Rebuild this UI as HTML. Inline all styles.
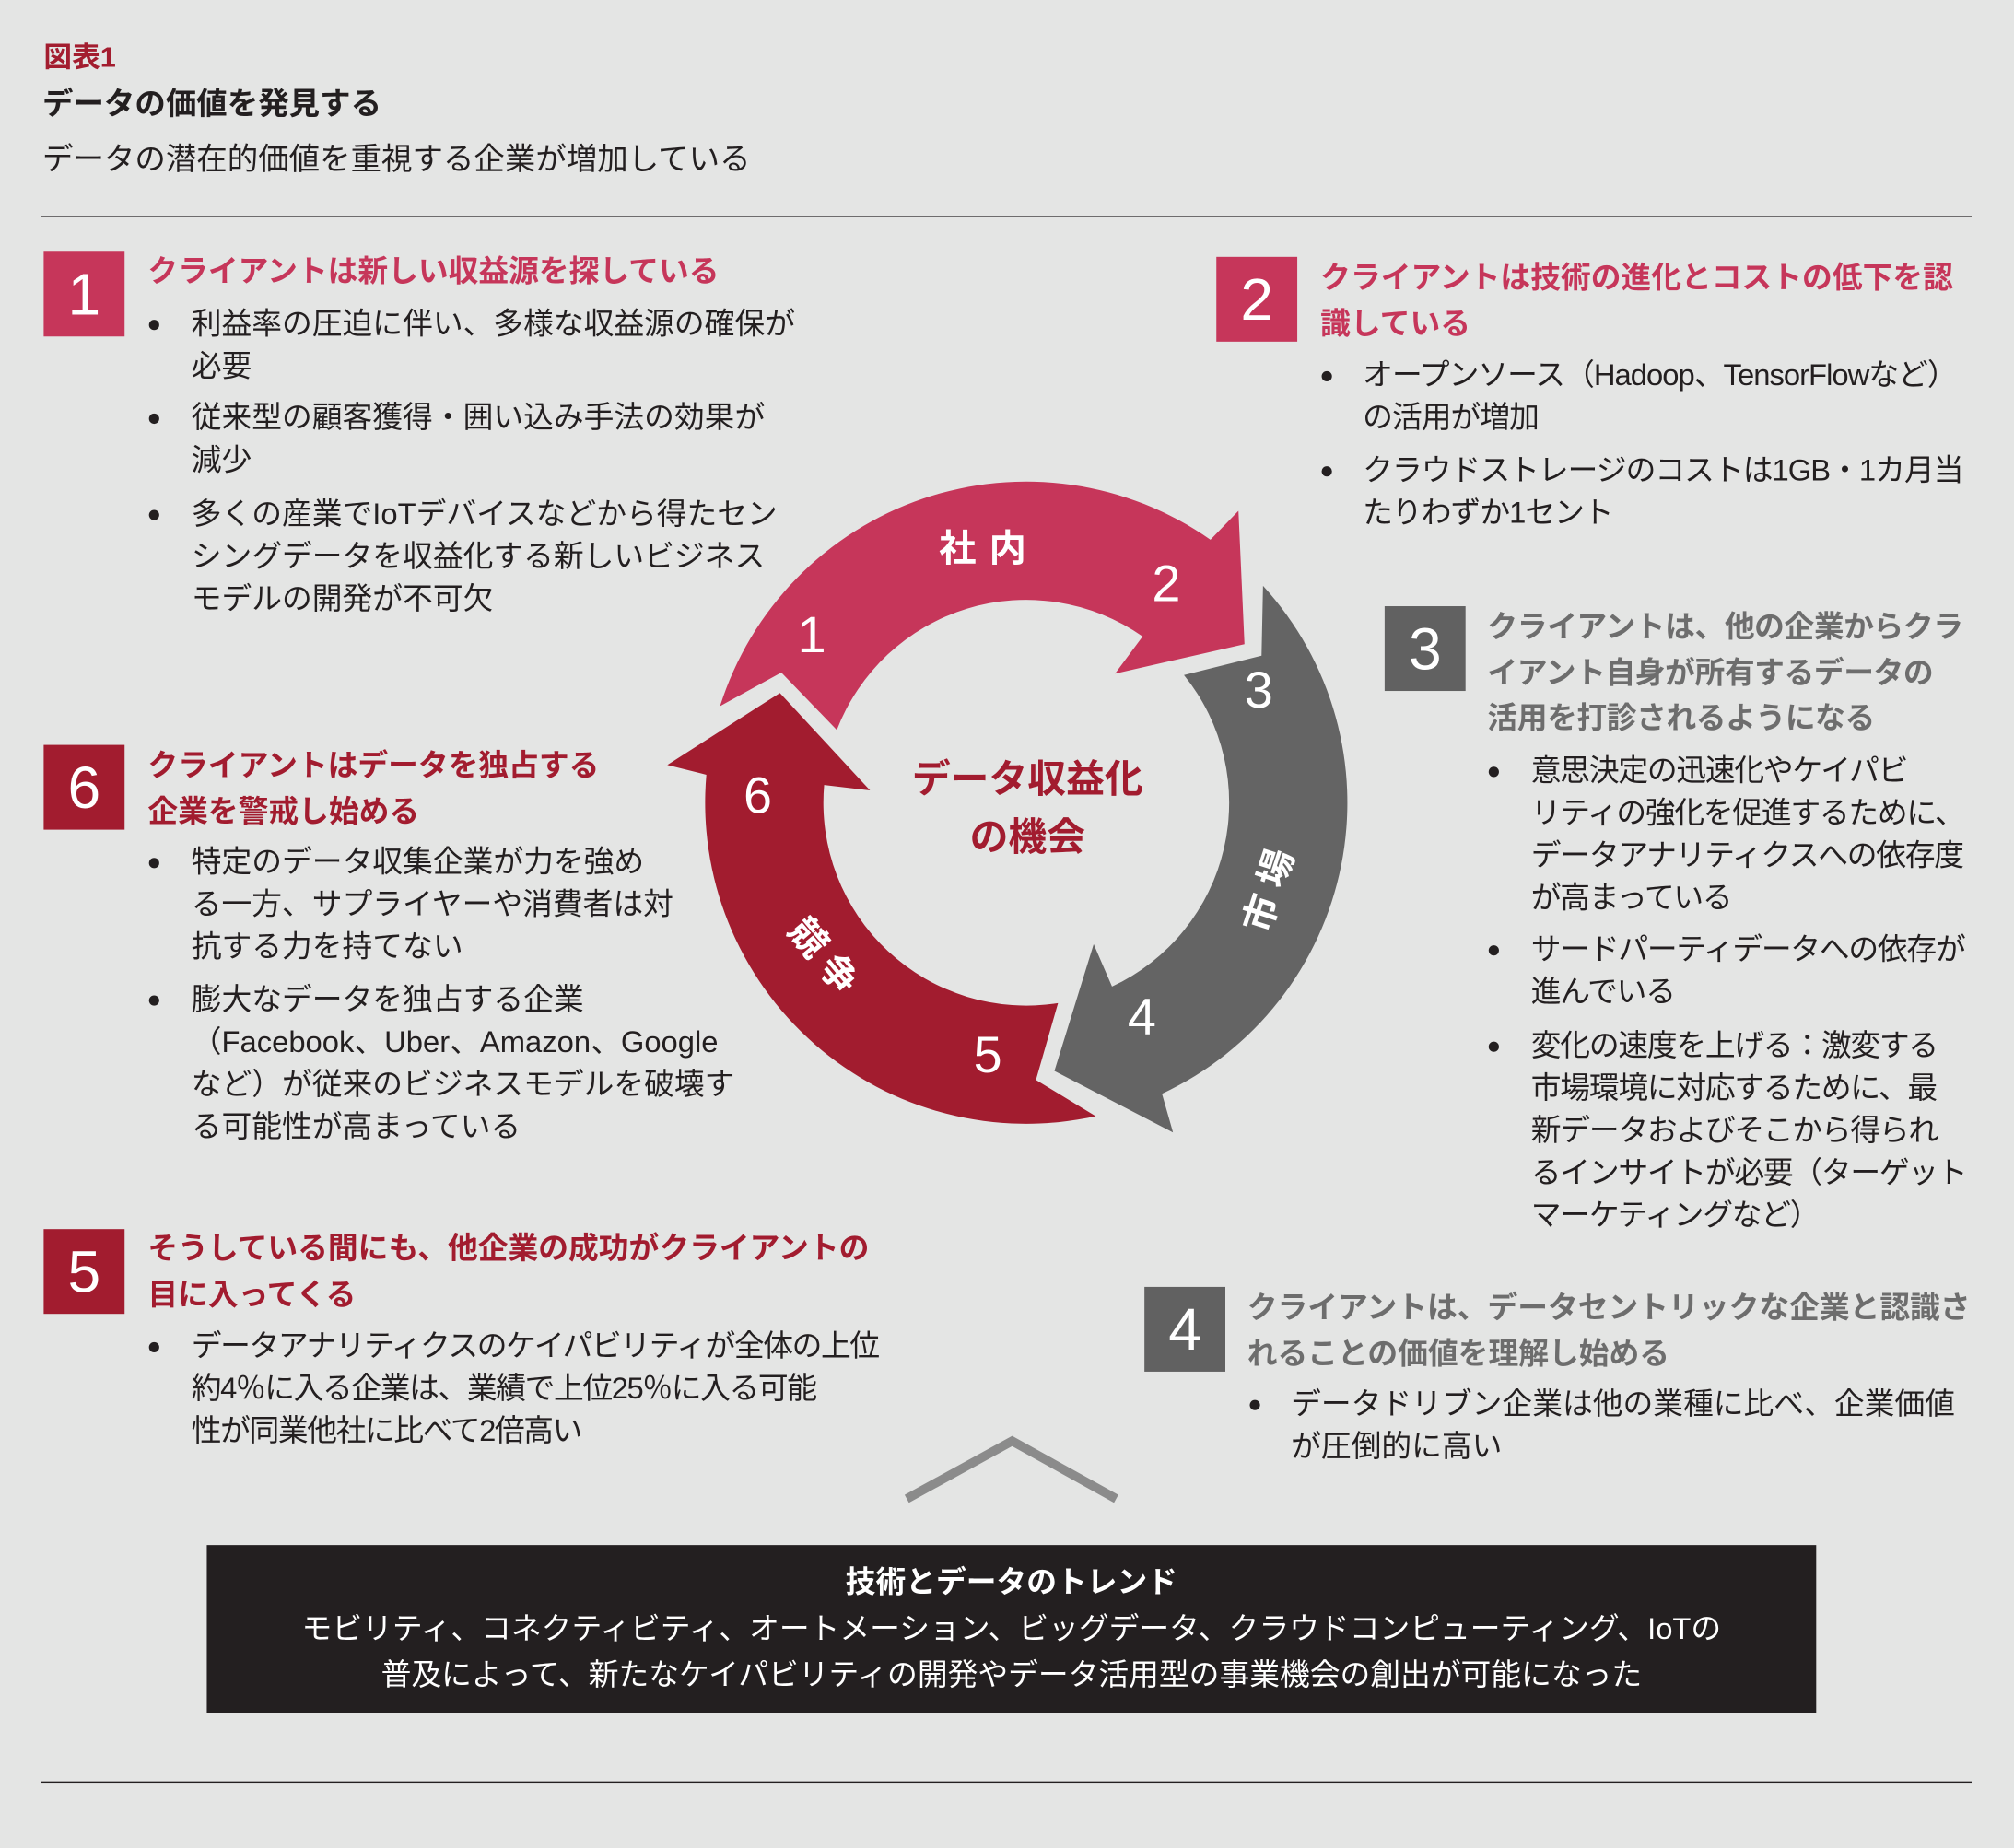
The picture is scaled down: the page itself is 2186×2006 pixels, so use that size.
<!DOCTYPE html>
<html><head><meta charset="utf-8"><style>
html,body{margin:0;padding:0;background:#e4e5e4;}
body{width:2186px;height:2006px;overflow:hidden;}
#w{position:absolute;left:0;top:0;width:1568px;height:1439px;transform:scale(1.39413);transform-origin:0 0;font-family:"Liberation Sans","Noto Sans CJK JP",sans-serif;color:#231f20;}
.a{position:absolute;white-space:nowrap;}
.t{font-size:23.5px;line-height:33px;}
.h{font-size:23.5px;line-height:35.5px;font-weight:bold;}
.box{position:absolute;width:63px;height:66px;color:#fff;font-size:46px;line-height:66px;text-align:center;}
.b{position:absolute;width:8px;height:8px;border-radius:50%;background:#231f20;}
.n{position:absolute;color:#fff;font-size:40px;line-height:40px;transform:translate(-50%,-50%);}
</style></head><body><div id="w">
<div class="a" style="left:34px;top:32px;font-size:22px;line-height:26px;font-weight:bold;color:#a31d2f;">図表1</div>
<div class="a" style="left:33px;top:67px;font-size:24px;line-height:30px;font-weight:bold;">データの価値を発見する</div>
<div class="a" style="left:33px;top:110px;font-size:24px;line-height:30px;">データの潜在的価値を重視する企業が増加している</div>
<div class="a" style="left:32px;top:168px;width:1503px;height:1px;background:#231f20;"></div>
<div class="a" style="left:32px;top:1387px;width:1503px;height:1px;background:#231f20;"></div>

<!-- 1 -->
<div class="box" style="left:34px;top:196px;background:#c6365a;">1</div>
<div class="a h" style="left:115px;top:194px;color:#c6365a;">クライアントは新しい収益源を探している</div>
<div class="b" style="left:116px;top:249px"></div><div class="b" style="left:116px;top:322px"></div><div class="b" style="left:116px;top:397px"></div>
<div class="a t" style="left:149px;top:236px;">利益率の圧迫に伴い、多様な収益源の確保が<br>必要</div>
<div class="a t" style="left:149px;top:309px;">従来型の顧客獲得・囲い込み手法の効果が<br>減少</div>
<div class="a t" style="left:149px;top:384px;">多くの産業でIoTデバイスなどから得たセン<br>シングデータを収益化する新しいビジネス<br>モデルの開発が不可欠</div>

<!-- 2 -->
<div class="box" style="left:947px;top:200px;background:#c6365a;">2</div>
<div class="a h" style="left:1028px;top:199px;color:#c6365a;">クライアントは技術の進化とコストの低下を認<br>識している</div>
<div class="b" style="left:1029px;top:289px"></div><div class="b" style="left:1029px;top:363px"></div>
<div class="a t" style="left:1061px;top:276px;letter-spacing:-0.7px;">オープンソース（Hadoop、TensorFlowなど）<br>の活用が増加</div>
<div class="a t" style="left:1061px;top:350px;letter-spacing:-0.7px;">クラウドストレージのコストは1GB・1カ月当<br>たりわずか1セント</div>

<!-- 3 -->
<div class="box" style="left:1078px;top:472px;background:#616161;">3</div>
<div class="a h" style="left:1158px;top:471px;color:#6d6d6d;letter-spacing:-0.3px;">クライアントは、他の企業からクラ<br>イアント自身が所有するデータの<br>活用を打診されるようになる</div>
<div class="b" style="left:1159px;top:597px"></div><div class="b" style="left:1159px;top:736px"></div><div class="b" style="left:1159px;top:811px"></div>
<div class="a t" style="left:1192px;top:584px;letter-spacing:-0.9px;">意思決定の迅速化やケイパビ<br>リティの強化を促進するために、<br>データアナリティクスへの依存度<br>が高まっている</div>
<div class="a t" style="left:1192px;top:723px;letter-spacing:-0.9px;">サードパーティデータへの依存が<br>進んでいる</div>
<div class="a t" style="left:1192px;top:798px;letter-spacing:-0.9px;">変化の速度を上げる：激変する<br>市場環境に対応するために、最<br>新データおよびそこから得られ<br>るインサイトが必要（ターゲット<br>マーケティングなど）</div>

<!-- 6 -->
<div class="box" style="left:34px;top:580px;background:#a21c2f;">6</div>
<div class="a h" style="left:115px;top:579px;color:#a21c2f;">クライアントはデータを独占する<br>企業を警戒し始める</div>
<div class="b" style="left:116px;top:668px"></div><div class="b" style="left:116px;top:775px"></div>
<div class="a t" style="left:149px;top:655px;">特定のデータ収集企業が力を強め<br>る一方、サプライヤーや消費者は対<br>抗する力を持てない</div>
<div class="a t" style="left:149px;top:762px;">膨大なデータを独占する企業<br>（Facebook、Uber、Amazon、Google<br>など）が従来のビジネスモデルを破壊す<br>る可能性が高まっている</div>

<!-- 5 -->
<div class="box" style="left:34px;top:957px;background:#a21c2f;">5</div>
<div class="a h" style="left:115px;top:955px;color:#a21c2f;">そうしている間にも、他企業の成功がクライアントの<br>目に入ってくる</div>
<div class="b" style="left:116px;top:1045px"></div>
<div class="a t" style="left:149px;top:1032px;letter-spacing:-1px;">データアナリティクスのケイパビリティが全体の上位<br>約4％に入る企業は、業績で上位25％に入る可能<br>性が同業他社に比べて2倍高い</div>

<!-- 4 -->
<div class="box" style="left:891px;top:1002px;background:#616161;">4</div>
<div class="a h" style="left:971px;top:1001px;color:#6d6d6d;">クライアントは、データセントリックな企業と認識さ<br>れることの価値を理解し始める</div>
<div class="b" style="left:973px;top:1090px"></div>
<div class="a t" style="left:1005px;top:1077px;">データドリブン企業は他の業種に比べ、企業価値<br>が圧倒的に高い</div>

<svg class="a" style="left:0;top:0" width="1568" height="1439">
<polyline points="706,1167 788,1122 869,1167" fill="none" stroke="#8b8b8b" stroke-width="7"/>
<path d="M560.6,549.8 L608.3,523.6 L651.5,568.4 A158 158 0 0 1 889.6,495.6 L868.1,524.5 L968.9,501.6 L964.2,397.7 L942.4,420.2 A250 250 0 0 0 560.6,549.8 Z" fill="#c6365a"/>
<path transform="rotate(120 799 625)" d="M560.6,549.8 L608.3,523.6 L651.5,568.4 A158 158 0 0 1 889.6,495.6 L868.1,524.5 L968.9,501.6 L964.2,397.7 L942.4,420.2 A250 250 0 0 0 560.6,549.8 Z" fill="#646464"/>
<path transform="rotate(240 799 625)" d="M560.6,549.8 L608.3,523.6 L651.5,568.4 A158 158 0 0 1 889.6,495.6 L868.1,524.5 L968.9,501.6 L964.2,397.7 L942.4,420.2 A250 250 0 0 0 560.6,549.8 Z" fill="#a21c2f"/>
</svg>
<div class="n" style="left:632px;top:495px;">1</div>
<div class="n" style="left:908px;top:455px;">2</div>
<div class="n" style="left:980px;top:538px;">3</div>
<div class="n" style="left:889px;top:792px;">4</div>
<div class="n" style="left:769px;top:822px;">5</div>
<div class="n" style="left:590px;top:620px;">6</div>
<div class="n" style="left:770px;top:428px;font-size:29px;font-weight:bold;letter-spacing:10px;">社内</div>
<div class="n" style="left:990px;top:690px;font-size:29px;font-weight:bold;letter-spacing:8px;transform:translate(-50%,-50%) rotate(-72deg);">市場</div>
<div class="n" style="left:643px;top:748px;font-size:29px;font-weight:bold;letter-spacing:8px;transform:translate(-50%,-50%) rotate(50deg);">競争</div>
<div class="a" style="left:650px;top:585px;width:300px;text-align:center;font-size:30px;line-height:45px;font-weight:bold;color:#a21c2f;">データ収益化<br>の機会</div>

<div class="a" style="left:161px;top:1203px;width:1253px;height:131px;background:#231f20;color:#fff;text-align:center;">
<div style="font-size:23.5px;line-height:36px;font-weight:bold;margin-top:11px;">技術とデータのトレンド</div>
<div style="font-size:23.5px;line-height:36px;">モビリティ、コネクティビティ、オートメーション、ビッグデータ、クラウドコンピューティング、IoTの<br>普及によって、新たなケイパビリティの開発やデータ活用型の事業機会の創出が可能になった</div>
</div>
</div></body></html>
